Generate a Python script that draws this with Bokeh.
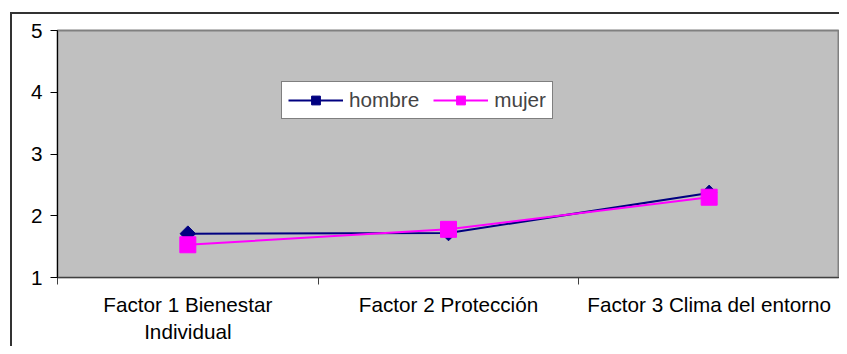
import numpy as np
from bokeh.plotting import figure
from bokeh.models import FixedTicker, Range1d, Legend
from bokeh.embed import file_html
from bokeh.resources import INLINE

categories = ["Factor 1 Bienestar\nIndividual", "Factor 2 Protección", "Factor 3 Clima del entorno"]
hombre = [1.71, 1.72, 2.37]
mujer = [1.53, 1.78, 2.30]
y_ticks = [1, 2, 3, 4, 5]

FONT = "Liberation Sans"
FS = "20.7px"

xs = np.arange(len(categories)) + 0.5

p = figure(width=839, height=346, output_backend="svg", toolbar_location=None,
           x_range=Range1d(0, len(categories)), y_range=Range1d(1, 5),
           min_border_left=57, min_border_right=0, min_border_top=30, min_border_bottom=69)

p.background_fill_color = "#C0C0C0"
p.border_fill_color = "white"
p.border_fill_alpha = 0
# outer chart-area border (left and top edges; right/bottom lie outside the picture)
p.styles = {
    "background-color": "white",
    "background-image": "linear-gradient(#333333, #333333), linear-gradient(#333333, #333333)",
    "background-repeat": "no-repeat",
    "background-position": "10px 12px, 10px 12px",
    "background-size": "2px 100%, 100% 2px",
}
p.outline_line_color = "#808080"
p.outline_line_width = 2
p.xgrid.visible = False
p.ygrid.visible = False

# x axis: labels at category centres, ticks at boundaries
p.xaxis.ticker = FixedTicker(ticks=list(xs), minor_ticks=list(range(len(categories) + 1)))
p.xaxis.major_label_overrides = {float(x): c for x, c in zip(xs, categories)}
p.xaxis.major_tick_line_color = None
p.xaxis.major_tick_out = 0
p.xaxis.major_tick_in = 0
p.xaxis.minor_tick_in = 0
p.xaxis.minor_tick_out = 7
p.xaxis.minor_tick_line_color = "#404040"
p.xaxis.axis_line_color = "#404040"
p.xaxis.axis_line_width = 1
p.xaxis.major_label_standoff = 8
p.xaxis.major_label_text_font = FONT
p.xaxis.major_label_text_font_size = FS
p.xaxis.major_label_text_color = "black"

p.yaxis.ticker = FixedTicker(ticks=y_ticks)
p.yaxis.minor_tick_line_color = None
p.yaxis.major_tick_in = 0
p.yaxis.major_tick_out = 7
p.yaxis.major_tick_line_color = "black"
p.yaxis.axis_line_color = "black"
p.yaxis.major_label_standoff = 8
p.yaxis.major_label_text_font = FONT
p.yaxis.major_label_text_font_size = FS
p.yaxis.major_label_text_color = "black"

l1 = p.line(xs, hombre, line_color="#000080", line_width=2)
m1 = p.scatter(xs, hombre, marker="square", angle=np.pi / 4, size=11,
               fill_color="#000080", line_color="#000080")
l2 = p.line(xs, mujer, line_color="#FF00FF", line_width=2)
m2 = p.scatter(xs, mujer, marker="square", size=16,
               fill_color="#FF00FF", line_color="#FF00FF")

legend = Legend(items=[("hombre", [l1, m1]), ("mujer", [l2, m2])],
                orientation="horizontal", location=(224, 158))
legend.label_text_font = FONT
legend.label_text_font_size = FS
legend.glyph_width = 55
legend.glyph_height = 22
legend.label_standoff = 6
legend.spacing = 14
legend.padding = 6
legend.margin = 0
legend.border_line_color = "black"
legend.border_line_width = 1
legend.background_fill_color = "white"
legend.background_fill_alpha = 1
p.add_layout(legend, "center")

open("out.html", "w").write(file_html(p, INLINE))
